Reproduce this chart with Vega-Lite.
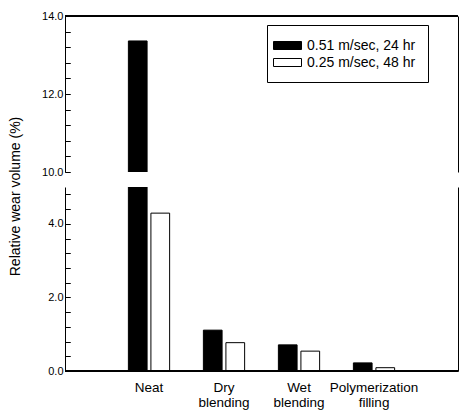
{
  "$schema": "https://vega.github.io/schema/vega-lite/v6.json",
  "padding": {"left": 7, "top": 10, "right": 5, "bottom": 2},
  "bounds": "flush",
  "spacing": 15,
  "config": {
    "view": {"stroke": null},
    "font": "Liberation Sans",
    "axis": {"domainColor": "black", "tickColor": "black", "labelColor": "black", "titleColor": "black", "grid": false, "labelFont": "Liberation Sans", "titleFont": "Liberation Sans"}
  },
  "data": {"values": [
    {"category": "Neat", "series": "0.51 m/sec, 24 hr", "value": 13.36},
    {"category": "Neat", "series": "0.25 m/sec, 48 hr", "value": 4.29},
    {"category": "Dry blending", "series": "0.51 m/sec, 24 hr", "value": 1.11},
    {"category": "Dry blending", "series": "0.25 m/sec, 48 hr", "value": 0.77},
    {"category": "Wet blending", "series": "0.51 m/sec, 24 hr", "value": 0.71},
    {"category": "Wet blending", "series": "0.25 m/sec, 48 hr", "value": 0.54},
    {"category": "Polymerization filling", "series": "0.51 m/sec, 24 hr", "value": 0.22},
    {"category": "Polymerization filling", "series": "0.25 m/sec, 48 hr", "value": 0.09}
  ]},
  "vconcat": [
    {
      "width": 393,
      "height": 156,
      "layer": [
        {
          "mark": {"type": "bar", "clip": true, "stroke": "black", "strokeWidth": 1},
          "encoding": {
            "x": {"field": "category", "type": "nominal", "sort": ["Neat", "Dry blending", "Wet blending", "Polymerization filling"], "scale": {"paddingInner": 0.45, "paddingOuter": 0.845}, "axis": null},
            "xOffset": {"field": "series", "type": "nominal", "sort": ["0.51 m/sec, 24 hr", "0.25 m/sec, 48 hr"], "scale": {"paddingInner": 0.17, "paddingOuter": 0}},
            "y": {"field": "value", "type": "quantitative", "scale": {"domain": [10, 14], "nice": false, "zero": false},
              "axis": {"title": null, "zindex": 1, "ticks": true, "tickSize": -5, "grid": true, "gridColor": "black", "gridOpacity": 1, "gridWidth": 1, "gridDash": [5, 1000], "values": [10, 10.4, 10.8, 11.2, 11.6, 12, 12.4, 12.8, 13.2, 13.6, 14], "labelExpr": "datum.value == 10 || datum.value == 12 || datum.value == 14 ? format(datum.value, '.1f') : ''", "labelPadding": 7, "labelFontSize": 11}},
            "fill": {"field": "series", "type": "nominal", "sort": ["0.51 m/sec, 24 hr", "0.25 m/sec, 48 hr"], "scale": {"domain": ["0.51 m/sec, 24 hr", "0.25 m/sec, 48 hr"], "range": ["black", "white"]},
              "legend": {"title": null, "orient": "none", "legendX": 202, "legendY": 9, "strokeColor": "black", "padding": 12, "symbolType": "M-1.75,-0.5H1.75V0.5H-1.75Z", "symbolSize": 256, "symbolStrokeColor": "black", "symbolStrokeWidth": 1, "labelFontSize": 14, "labelColor": "black", "rowPadding": 1, "labelOffset": 11}}
          }
        },
        {
          "mark": {"type": "rule", "color": "black"},
          "encoding": {"y": {"datum": 14, "type": "quantitative", "axis": {"orient": "right", "labels": false, "ticks": false, "title": null}}}
        }
      ],
      "resolve": {"axis": {"y": "independent"}}
    },
    {
      "width": 393,
      "height": 184,
      "layer": [
        {
          "mark": {"type": "bar", "clip": true, "stroke": "black", "strokeWidth": 1},
          "encoding": {
            "x": {"field": "category", "type": "nominal", "sort": ["Neat", "Dry blending", "Wet blending", "Polymerization filling"], "scale": {"paddingInner": 0.45, "paddingOuter": 0.845}, "axis": {"title": null, "ticks": false, "labelAngle": 0, "labelExpr": "split(datum.label, ' ')", "labelFontSize": 13.5, "labelPadding": 9, "labelLineHeight": 15}},
            "xOffset": {"field": "series", "type": "nominal", "sort": ["0.51 m/sec, 24 hr", "0.25 m/sec, 48 hr"], "scale": {"paddingInner": 0.17, "paddingOuter": 0}},
            "y": {"field": "value", "type": "quantitative", "scale": {"domain": [0, 5], "nice": false},
              "axis": {"title": "Relative wear volume (%)", "zindex": 1, "titleFontSize": 14, "titleFontWeight": "normal", "titleX": -50, "titleY": 9, "titleBaseline": "middle", "titleAlign": "center", "ticks": true, "tickSize": -5, "grid": true, "gridColor": "black", "gridOpacity": 1, "gridWidth": 1, "gridDash": [5, 1000], "values": [0, 0.4, 0.8, 1.2, 1.6, 2, 2.4, 2.8, 3.2, 3.6, 4, 4.4, 4.8], "labelExpr": "datum.value == 0 || datum.value == 2 || datum.value == 4 ? format(datum.value, '.1f') : ''", "labelPadding": 7, "labelFontSize": 11}},
            "fill": {"field": "series", "type": "nominal", "sort": ["0.51 m/sec, 24 hr", "0.25 m/sec, 48 hr"], "scale": {"domain": ["0.51 m/sec, 24 hr", "0.25 m/sec, 48 hr"], "range": ["black", "white"]}, "legend": null}
          }
        },
        {
          "mark": {"type": "rule", "color": "black"},
          "encoding": {"y": {"datum": 0, "type": "quantitative", "axis": {"orient": "right", "labels": false, "ticks": false, "title": null}}}
        }
      ],
      "resolve": {"axis": {"y": "independent"}}
    }
  ]
}
